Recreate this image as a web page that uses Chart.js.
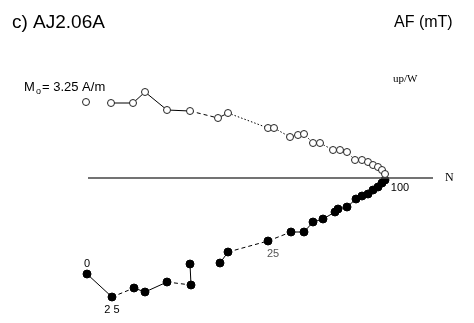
<!DOCTYPE html>
<html>
<head>
<meta charset="utf-8">
<script src="https://cdn.jsdelivr.net/npm/chart.js"></script>
<style>
  html, body { margin: 0; padding: 0; background: #fff; }
  #wrap { width: 474px; height: 323px; }
</style>
</head>
<body>
<div id="wrap"><canvas id="zijChart" width="474" height="323"></canvas></div>
<script>
// Zijderveld diagram, AF demagnetisation (units: A/m)
// horizontal projection (filled): N vs E
const horizN = [-2.98, -2.73, -2.51, -2.40, -2.18, -1.94, -1.95, -1.65, -1.57, -1.17, -0.94, -0.81,
                -0.72, -0.62, -0.50, -0.47, -0.38, -0.29, -0.23, -0.17, -0.12, -0.07, -0.03, 0.00];
const horizE = [-0.96, -1.19, -1.10, -1.14, -1.04, -1.07, -0.86, -0.85, -0.74, -0.63, -0.54, -0.54,
                -0.44, -0.41, -0.34, -0.31, -0.29, -0.21, -0.18, -0.16, -0.12, -0.09, -0.05, -0.02];
// vertical projection (open): N vs up
const vertN = [-2.99, -2.74, -2.52, -2.40, -2.18, -1.95, -1.67, -1.57, -1.17, -1.11, -0.95, -0.87, -0.81,
               -0.72, -0.65, -0.52, -0.45, -0.38, -0.30, -0.23, -0.17, -0.12, -0.07, -0.03, 0.00];
const vertUp = [0.76, 0.75, 0.75, 0.86, 0.68, 0.67, 0.60, 0.65, 0.50, 0.50, 0.41, 0.43, 0.44,
                0.35, 0.35, 0.28, 0.28, 0.26, 0.18, 0.18, 0.16, 0.13, 0.11, 0.08, 0.04];
// step labels: [series, index, text, dx, dy]
const stepLabels = [['h', 0, '0', 0, -10], ['h', 1, '2 5', 0, 13], ['h', 9, '25', 5, 13], ['h', 23, '100', 15, 8]];
const axisN = [-2.97, 0.48];

const toPts = (xs, ys) => xs.map((x, i) => ({ x: x, y: ys[i] }));

// line style of each segment (index of its start point)
const hStyle = ['s', 'd', 's', 's', 'd', 's', 'n', 's', 'd', 'd', 's', 's', 's', 's', 's', 's', 's', 's', 's', 's', 's', 's', 's'];
const vStyle = ['n', 's', 's', 's', 's', 'd', 's', 'o', 'o', 'o', 'o', 'o', 'o', 'o', 'o', 'o', 'o', 'o', 'o', 'o', 'o', 'o', 'o', 'o'];
const dashOf = s => s === 'd' ? [4, 3] : (s === 'o' ? [1.5, 2] : []);
const colOf = s => s === 'n' ? 'rgba(0,0,0,0)' : '#000';

const textPlugin = {
  id: 'texts',
  afterDatasetsDraw(chart) {
    const c = chart.ctx;
    const xs = chart.scales.x, ys = chart.scales.y;
    c.save();
    c.fillStyle = '#000';
    c.textBaseline = 'alphabetic';
    c.textAlign = 'left';
    c.font = '19px "Liberation Sans", Arial, sans-serif';
    c.fillText('c) AJ2.06A', 12, 28);
    c.font = '16px "Liberation Sans", Arial, sans-serif';
    c.fillText('AF (mT)', 394, 27);
    c.font = '13px "Liberation Sans", Arial, sans-serif';
    c.fillText('M', 24, 91);
    c.font = '9px "Liberation Sans", Arial, sans-serif';
    c.fillText('o', 36, 94);
    c.font = '13px "Liberation Sans", Arial, sans-serif';
    c.fillText('= 3.25 A/m', 42, 91);
    c.font = '11px "Liberation Serif", "Times New Roman", serif';
    c.fillText('up/W', 393, 82);
    c.font = '12px "Liberation Serif", "Times New Roman", serif';
    c.textBaseline = 'middle';
    c.fillText('N', 445, 178);
    c.textAlign = 'center';
    stepLabels.forEach(([s, i, t, dx, dy]) => {
      const px = xs.getPixelForValue(s === 'h' ? horizN[i] : vertN[i]);
      const py = ys.getPixelForValue(s === 'h' ? horizE[i] : vertUp[i]);
      c.font = '11px "Liberation Sans", Arial, sans-serif';
      c.fillStyle = t === '25' ? '#555' : '#000';
      c.fillText(t, px + dx, py + dy);
    });
    c.restore();
  }
};

new Chart(document.getElementById('zijChart'), {
  type: 'scatter',
  data: {
    datasets: [
      {
        label: 'axis',
        data: toPts(axisN, [0, 0]),
        showLine: true,
        borderColor: '#444',
        borderWidth: 1.5,
        pointRadius: 0
      },
      {
        label: 'vertical',
        data: toPts(vertN, vertUp),
        showLine: true,
        borderColor: '#000',
        borderWidth: 1,
        pointRadius: 3.5,
        pointBorderWidth: 1,
        pointBackgroundColor: '#fff',
        pointBorderColor: '#222',
        segment: {
          borderDash: ctx => dashOf(vStyle[ctx.p0DataIndex]),
          borderColor: ctx => colOf(vStyle[ctx.p0DataIndex])
        }
      },
      {
        label: 'horizontal',
        data: toPts(horizN, horizE),
        showLine: true,
        borderColor: '#000',
        borderWidth: 1,
        pointRadius: 4,
        pointBackgroundColor: '#000',
        pointBorderColor: '#000',
        segment: {
          borderDash: ctx => dashOf(hStyle[ctx.p0DataIndex]),
          borderColor: ctx => colOf(hStyle[ctx.p0DataIndex])
        }
      }
    ]
  },
  options: {
    responsive: false,
    animation: false,
    layout: { padding: 0, autoPadding: false },
    plugins: { legend: { display: false }, tooltip: { enabled: false } },
    scales: {
      x: { type: 'linear', min: -3.85, max: 0.89, display: false },
      y: { type: 'linear', min: -1.45, max: 1.78, display: false }
    }
  },
  plugins: [textPlugin]
});
</script>
</body>
</html>
